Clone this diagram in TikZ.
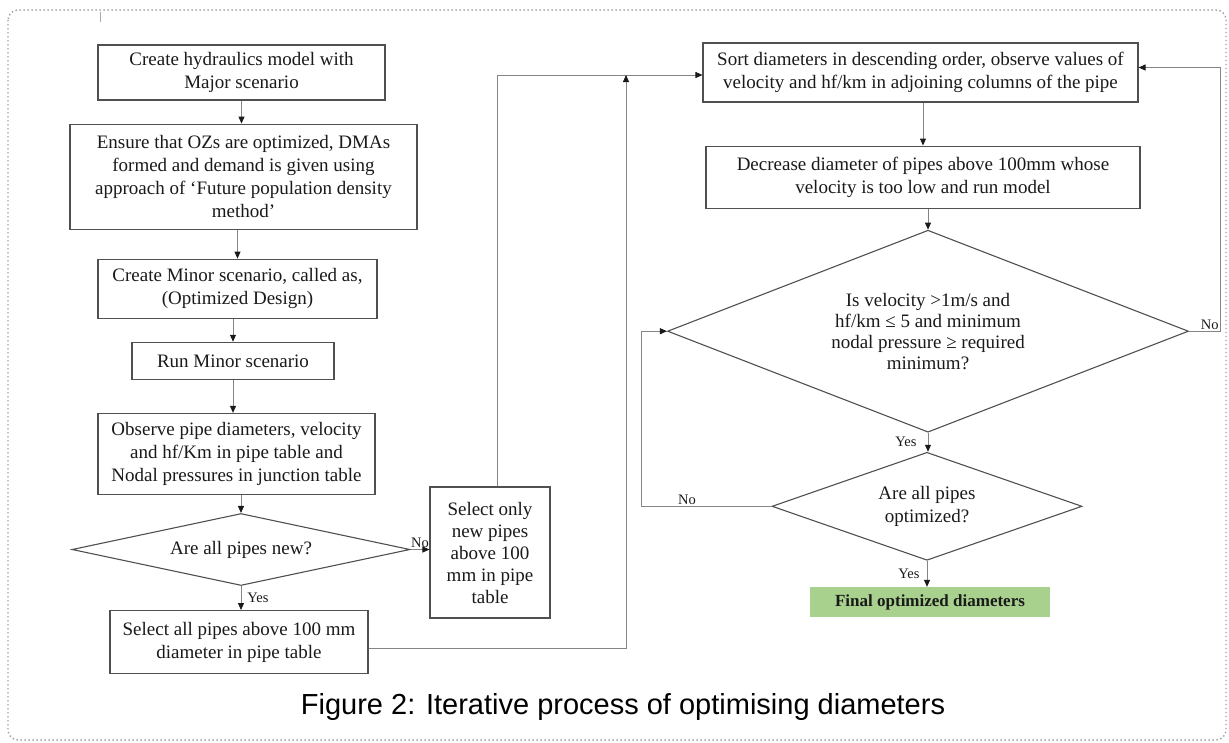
\documentclass[tikz,border=0pt]{standalone}
\usepackage{fontspec}
\setmainfont{Liberation Serif}
\newfontfamily\capfont{Liberation Sans}
\usetikzlibrary{
  shapes.geometric,
  arrows.meta,
  positioning,
  calc
}
\definecolor{boxgray}{HTML}{505050}
\definecolor{linegray}{HTML}{858585}
\definecolor{txtgray}{HTML}{1A1A1A}
\definecolor{finalgreen}{HTML}{A9D18E}
\definecolor{framegray}{HTML}{9A9A9A}

\begin{document}
\begin{tikzpicture}[
    x=1pt, y=-1pt,
    node distance=23pt,
    every node/.style={font=\fontsize{19}{23}\selectfont, text=txtgray},
    procbox/.style={rectangle, draw=boxgray, line width=1.1pt, fill=white,
                    align=center, inner sep=3pt},
    decision/.style={diamond, draw=boxgray, line width=1.1pt, fill=white,
                     align=center, inner sep=0pt},
    result/.style={rectangle, fill=finalgreen, align=center, inner sep=3pt,
                   font=\fontsize{17}{20}\selectfont\bfseries},
    lbl/.style={font=\fontsize{14.5}{16}\selectfont, inner sep=1pt},
    myarrow/.style={-{Triangle[length=7pt, width=6pt, color=txtgray]},
                    line width=0.9pt, draw=linegray},
]
\useasboundingbox (0,0) rectangle (1229,742);

% Frame
\draw[framegray, line width=1.4pt, dash pattern=on 1.4pt off 2.6pt,
      rounded corners=10pt] (8,10) rectangle (1226,740);
\draw[linegray!70, line width=1pt] (100,12) -- (100,22);

% Left column
\node[procbox, minimum width=287pt, minimum height=55pt] (hyd) at (241.5,72.5)
  {Create hydraulics model with\\Major scenario};
\node[procbox, minimum width=347pt, minimum height=105pt, below=23pt of hyd, xshift=2pt] (ensure)
  {Ensure that OZs are optimized, DMAs\\formed and demand is given using\\approach of ‘Future population density\\method’};
\node[procbox, minimum width=279pt, minimum height=59pt, below=29pt of ensure, xshift=-6pt] (minor)
  {Create Minor scenario, called as,\\(Optimized Design)};
\node[procbox, minimum width=202pt, minimum height=37pt, below=23pt of minor, xshift=-4.5pt] (runminor)
  {Run Minor scenario};
\node[procbox, minimum width=277pt, minimum height=81pt, below=33pt of runminor, xshift=3.5pt] (observe)
  {Observe pipe diameters, velocity\\and hf/Km in pipe table and\\Nodal pressures in junction table};
\node[decision, minimum width=338pt, minimum height=72pt, aspect=4.7, below=18pt of observe, xshift=4.5pt] (allnew)
  {Are all pipes new?};
\node[procbox, minimum width=258pt, minimum height=63pt, below=24pt of allnew, xshift=-2pt] (selall)
  {Select all pipes above 100 mm\\diameter in pipe table};
\node[procbox, minimum width=120pt, minimum height=131pt, font=\fontsize{19}{22}\selectfont] (selnew) at (490,552.5)
  {Select only\\new pipes\\above 100\\mm in pipe\\table};

% Right column
\node[procbox, minimum width=435pt, minimum height=59pt] (sortd) at (920.5,72.5)
  {Sort diameters in descending order, observe values of\\velocity and hf/km in adjoining columns of the pipe};
\node[procbox, minimum width=434pt, minimum height=62pt, below=43pt of sortd, xshift=2.5pt] (decr)
  {Decrease diameter of pipes above 100mm whose\\velocity is too low and run model};
\node[decision, minimum width=521pt, minimum height=202pt, aspect=2.58, below=21pt of decr, xshift=5pt,
      font=\fontsize{19}{21}\selectfont] (velchk)
  {Is velocity >1m/s and\\hf/km ≤ 5 and minimum\\nodal pressure ≥ required\\minimum?};
\node[decision, minimum width=310pt, minimum height=108pt, aspect=2.87, below=19pt of velchk, xshift=-1pt] (allopt)
  {Are all pipes\\optimized?};
\node[result, minimum width=240pt, minimum height=30pt, below=26pt of allopt, xshift=3pt] (final)
  {Final optimized diameters};

% Caption
\node[font=\capfont\fontsize{29}{31}\selectfont, text=black] (caption) at (623,707)
  {Figure 2: Iterative process of optimising diameters};

% Arrows, left column
\draw[myarrow] (hyd.south) -- (hyd.south |- ensure.north);
\draw[myarrow] (ensure.south -| minor.north) -- (minor.north);
\draw[myarrow] (minor.south -| runminor.north) -- (runminor.north);
\draw[myarrow] (runminor.south) -- (runminor.south |- observe.north);
\draw[myarrow] (observe.south -| allnew.north) -- (allnew.north);
\draw[myarrow] (allnew.east) -- (allnew.east -| selnew.west) node[lbl, midway, above] {No};
\draw[myarrow] (allnew.south) -- (allnew.south |- selall.north) node[lbl, midway, right=5pt] {Yes};

% Feedback into sorting
\coordinate (merge) at (626,75);
\draw[myarrow] ([xshift=7pt]selnew.north) |- ([yshift=-2.5pt]sortd.west);
\draw[myarrow] ([yshift=-6pt]selall.east) -| (merge);

% Arrows, right column
\draw[myarrow] (sortd.south -| decr.north) -- (decr.north);
\draw[myarrow] (decr.south -| velchk.north) -- (velchk.north);
\draw[myarrow] (velchk.south) -- (velchk.south |- allopt.north) node[lbl, midway, left=10pt] {Yes};
\draw[myarrow] (allopt.south) -- (allopt.south |- final.north) node[lbl, midway, left=6pt] {Yes};
\draw[myarrow] (velchk.east) -- ++(31,0) node[lbl, above left] {No} |- ([yshift=5pt]sortd.east);
\draw[myarrow] (allopt.west) -- ++(-130,0) node[lbl, pos=0.65, above] {No} |- (velchk.west);

\end{tikzpicture}
\end{document}
